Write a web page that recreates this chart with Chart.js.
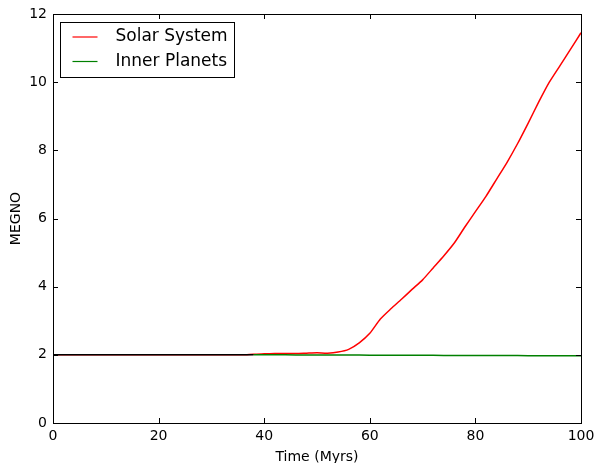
<!DOCTYPE html>
<html>
<head>
<meta charset="utf-8">
<script src="https://cdn.jsdelivr.net/npm/chart.js@4.4.1/dist/chart.umd.min.js"></script>
<style>
  html, body { margin: 0; padding: 0; background: #fff; }
  #wrap { width: 596px; height: 463px; }
</style>
</head>
<body>
<div id="wrap"><canvas id="megnoChart" width="596" height="463"></canvas></div>
<script>
// time in Myrs, MEGNO
const timeMyrs = [0, 2, 4, 6, 8, 10, 12, 14, 16, 18, 20, 22, 24, 26, 28, 30, 32, 34, 36, 38,
  40, 42, 44, 46, 48, 50, 52, 54, 56, 58, 60, 62, 64, 66, 68, 70, 72, 74, 76, 78,
  80, 82, 84, 86, 88, 90, 92, 94, 96, 98, 100];
const solarSystem = [2.0, 2.0, 2.0, 2.0, 2.0, 2.0, 2.0, 2.0, 2.0, 2.0, 2.0, 2.0, 2.0, 2.0, 2.0, 2.0, 2.0, 2.0, 2.0, 2.02,
  2.03, 2.04, 2.04, 2.04, 2.05, 2.06, 2.05, 2.08, 2.16, 2.35, 2.63, 3.05, 3.35, 3.63, 3.92, 4.2, 4.55, 4.9, 5.28, 5.75,
  6.2, 6.65, 7.15, 7.65, 8.2, 8.8, 9.42, 10.0, 10.48, 10.96, 11.45];
const innerPlanets = [2.0, 2.0, 2.0, 2.0, 2.0, 2.0, 2.0, 2.0, 2.0, 2.0, 2.0, 2.0, 2.0, 2.0, 2.0, 2.0, 2.0, 2.0, 2.0, 2.0,
  2.0, 2.0, 1.999, 1.998, 1.997, 1.996, 1.995, 1.994, 1.993, 1.992, 1.991, 1.99, 1.989, 1.988, 1.987, 1.986, 1.985, 1.984, 1.983, 1.982,
  1.981, 1.98, 1.979, 1.978, 1.977, 1.976, 1.975, 1.974, 1.973, 1.972, 1.97];
const xTicks = [0, 20, 40, 60, 80, 100];
const yTicks = [0, 2, 4, 6, 8, 10, 12];
const seriesNames = ['Solar System', 'Inner Planets'];
const seriesColors = ['#ff0000', '#008000'];

const FONT = 'DejaVu Sans';

function toPoints(ys) {
  return timeMyrs.map((t, i) => ({ x: t, y: ys[i] }));
}

// frame, inward ticks on all four sides and the legend box (matplotlib look)
const framePlugin = {
  id: 'frame',
  afterDatasetsDraw(chart) {
    const { ctx, chartArea: a, scales } = chart;
    const xs = scales.x, ys = scales.y;
    ctx.save();
    ctx.strokeStyle = '#000';
    ctx.lineWidth = 1;
    ctx.beginPath();
    xTicks.forEach(v => {
      const px = Math.round(xs.getPixelForValue(v)) + 0.5;
      ctx.moveTo(px, a.bottom); ctx.lineTo(px, a.bottom - 5);
      ctx.moveTo(px, a.top); ctx.lineTo(px, a.top + 5);
    });
    yTicks.forEach(v => {
      const py = Math.round(ys.getPixelForValue(v)) + 0.5;
      ctx.moveTo(a.left, py); ctx.lineTo(a.left + 5, py);
      ctx.moveTo(a.right, py); ctx.lineTo(a.right - 5, py);
    });
    ctx.stroke();
    ctx.strokeRect(Math.round(a.left) + 0.5, Math.round(a.top) + 0.5,
      Math.round(a.right - a.left), Math.round(a.bottom - a.top));

    // legend
    const lx = a.left + 7.5, ly = a.top + 8.5, lw = 174, lh = 55;
    ctx.fillStyle = '#fff';
    ctx.fillRect(lx, ly, lw, lh);
    ctx.strokeRect(lx, ly, lw, lh);
    ctx.font = '17px "' + FONT + '"';
    ctx.textBaseline = 'middle';
    ctx.textAlign = 'left';
    seriesNames.forEach((name, i) => {
      const yy = ly + 14.5 + i * 24.5;
      ctx.strokeStyle = seriesColors[i];
      ctx.lineWidth = 1.2;
      ctx.beginPath();
      ctx.moveTo(lx + 12, yy); ctx.lineTo(lx + 37, yy);
      ctx.stroke();
      ctx.fillStyle = '#000';
      ctx.fillText(name, lx + 55, yy);
    });
    ctx.restore();
  }
};

const ctx = document.getElementById('megnoChart').getContext('2d');
const myChart = new Chart(ctx, {
  type: 'line',
  data: {
    datasets: [
      {
        label: seriesNames[0],
        data: toPoints(solarSystem),
        borderColor: seriesColors[0],
        borderWidth: 1.5,
        pointRadius: 0,
        fill: false,
        tension: 0.2,
        order: 2
      },
      {
        label: seriesNames[1],
        data: toPoints(innerPlanets),
        borderColor: seriesColors[1],
        borderWidth: 1.5,
        pointRadius: 0,
        fill: false,
        order: 1,
        // the overlapping start of the line reads as black in the picture
        segment: { borderColor: c => c.p0.parsed.x < 38 ? '#000000' : seriesColors[1] }
      }
    ]
  },
  options: {
    responsive: false,
    animation: false,
    layout: { padding: { left: 0, right: 15, top: 14, bottom: 0 } },
    plugins: {
      legend: { display: false },
      tooltip: { enabled: false }
    },
    scales: {
      x: {
        type: 'linear',
        min: 0, max: 100,
        afterBuildTicks: s => { s.ticks = xTicks.map(v => ({ value: v })); },
        afterFit: s => { s.height = 40; s.paddingLeft = 0; s.paddingRight = 0; },
        grid: { display: false, drawTicks: false },
        border: { display: false },
        ticks: { color: '#000', padding: 5, maxRotation: 0, font: { family: FONT, size: 14 } },
        title: { display: true, text: 'Time (Myrs)', color: '#000', padding: { top: 0, bottom: -3 },
          font: { family: FONT, size: 14 } }
      },
      y: {
        min: 0, max: 12,
        afterBuildTicks: s => { s.ticks = yTicks.map(v => ({ value: v })); },
        afterFit: s => { s.width = 53; s.paddingTop = 0; s.paddingBottom = 0; },
        grid: { display: false, drawTicks: false },
        border: { display: false },
        ticks: { color: '#000', padding: 6, font: { family: FONT, size: 14 } },
        title: { display: true, text: 'MEGNO', color: '#000', padding: { top: 8, bottom: 0 },
          font: { family: FONT, size: 14 } }
      }
    }
  },
  plugins: [framePlugin]
});
</script>
</body>
</html>
